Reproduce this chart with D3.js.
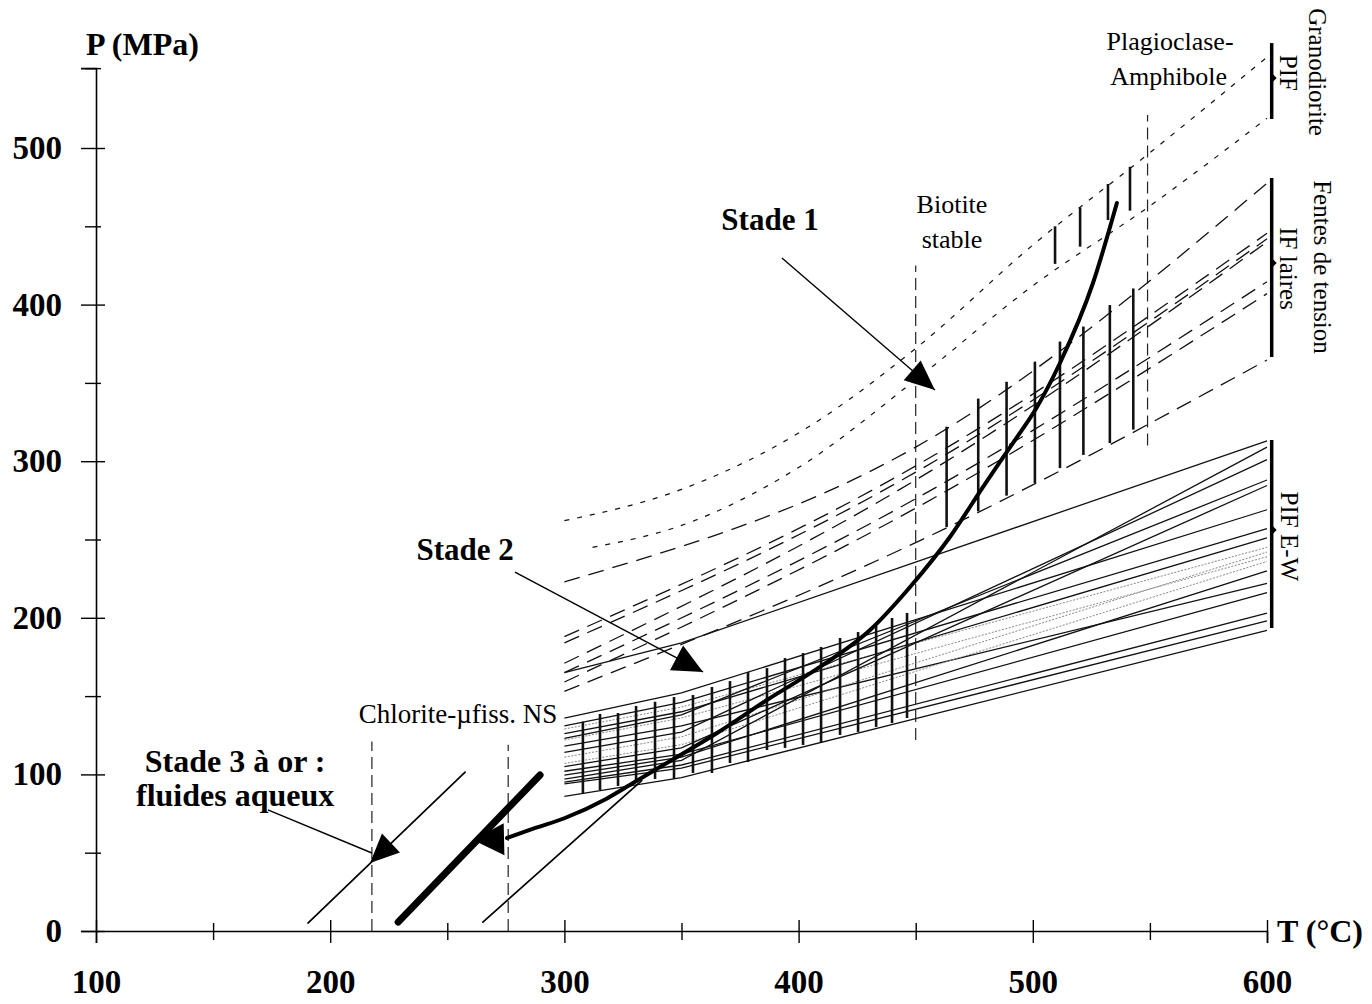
<!DOCTYPE html>
<html>
<head>
<meta charset="utf-8">
<script src="https://cdn.jsdelivr.net/npm/d3@7"></script>
<style>
body { margin: 0; background: #fff; }
svg { display: block; }
</style>
</head>
<body>
<svg id="chart" width="1372" height="1004"></svg>
<script>
// axis ticks
var xTickVals = [100, 150, 200, 250, 300, 350, 400, 450, 500, 550, 600];
var xTickLabels = [100, 200, 300, 400, 500, 600];
var yTickVals = [0, 50, 100, 150, 200, 250, 300, 350, 400, 450, 500];
var yTickLabels = [0, 100, 200, 300, 400, 500];
var yTop = 551;

// PIF E-W isochores (solid), P at T = 300, 350, 600
var ewT = [300, 350, 600];
var ewLines = [
    [165, 184, 313], [136, 152, 269], [131, 146, 257], [129, 143, 245],
    [126, 140, 251], [123, 138, 288], [122, 136, 239], [118, 131, 222],
    [114, 127, 301], [111, 124, 242], [107, 119, 236], [105, 117, 284.5],
    [102, 113, 216], [99.6, 111, 230], [97, 109, 309], [95, 106, 203],
    [94, 104, 198], [86, 98, 192]
];
var ewFaint = [3, 6, 9, 10];

// IF laires isochores (dashed), P at T = 300, 450, 600
var ifT = [300, 450, 600];
var ifLines = [
    [223, 309, 477.5], [188, 297, 445.5], [184, 293, 442], [171, 288, 440],
    [165, 276, 414.6], [159, 270, 407], [153, 248, 364.6]
];

// Granodiorite PIF isochores (dotted)
var granoT1 = [300, 350, 400, 450, 500, 550, 600];
var granoP1 = [262, 282, 318, 372, 438, 497, 558];
var granoT2 = [312, 350, 400, 450, 500, 550, 600];
var granoP2 = [245, 259, 296, 352, 412, 463, 519];

// hatch bars (T, P bottom, P top)
var ewHatchT = [307.9, 315.2, 322.9, 330.6, 338.7, 346.8, 354.9, 363.0, 370.7, 378.4, 386.5, 394.2, 401.9, 409.6, 417.7, 425.4, 433.1, 439.9, 446.3];
var ewHatchTop = [133.7, 138.6, 139.2, 143.7, 146.4, 149.4, 150.7, 155.8, 159.6, 165.4, 167.9, 174.3, 177.5, 181.4, 187.1, 190.9, 194.8, 199.9, 203.1];
var ewHatchBot = [87.5, 90.0, 92.6, 94.5, 97.1, 97.1, 100.9, 100.9, 107.3, 107.9, 115.6, 116.9, 118.8, 120.1, 125.2, 127.1, 130.3, 132.8, 136.0];
var ifHatchT = [463.2, 476.7, 488.8, 500.9, 511.6, 521.6, 532.9, 542.9];
var ifHatchTop = [322, 340, 350.7, 363.6, 376.4, 386, 399.7, 410.3];
var ifHatchBot = [258, 268, 278, 286, 295.6, 304, 311.6, 320.2];
var granoHatchT = [509.5, 520.2, 532.1, 541.5];
var granoHatchTop = [450, 462, 477, 488];
var granoHatchBot = [426, 437, 454, 460];

// Stade 1 path (thick curve), low T to high T
var stade1T = [275.5, 287, 300, 318, 329.3, 340.8, 365.2, 386.5, 409.1, 430.5, 447.6, 464.6, 478.7, 491.5, 501.8, 511.6, 525.7, 535.9];
var stade1P = [59.4, 65.5, 72, 84.5, 94.5, 104.7, 126.4, 147.5, 168.6, 192.2, 219.7, 251.6, 283.5, 311.6, 334.6, 362.7, 413.8, 464.9];

// Stade 3 lines: [T start, P start, T end, P end]
var stade3Lines = [[190.5, 5.1, 257.6, 101.5], [229, 5.7, 289.6, 99.6], [265.2, 5.7, 333, 96]];

// vertical mineral limits: [T, P bottom, P top]
var limits = [[217.8, 0, 121], [276, 0, 119], [450, 122, 425], [549, 310, 521]];

// ranges at right side: [P low, P high, P notch]
var rangeT = 602;
var ranges = [[518.5, 567, 544.7], [366.5, 480.8, 426.6], [193.5, 313.5, 256]];

// pointers: [T from, P from, T tip, P tip]
var pointers = [[392.9, 429.8, 458.2, 345.5], [278.9, 229.2, 359.2, 165.4], [173.4, 77.3, 217.8, 49.8]];

var serif = "'Liberation Serif', 'Times New Roman', serif";
var svg = d3.select("#chart");

var x = d3.scaleLinear().domain([100, 600]).range([96, 1267]);
var y = d3.scaleLinear().domain([0, 500]).range([931, 148]);

var line = d3.line().x(d => x(d[0])).y(d => y(d[1]));
var smooth = d3.line().x(d => x(d[0])).y(d => y(d[1])).curve(d3.curveMonotoneX);

//x axis
var xAxis = svg.append("g")
    .attr("transform", "translate(0," + y(0) + ")")
    .call(d3.axisBottom(x).tickValues(xTickVals).tickSizeOuter(0).tickSize(12).tickPadding(27)
        .tickFormat(d => xTickLabels.includes(d) ? d : ""));
xAxis.select(".domain").attr("stroke-width", 1.6);
xAxis.selectAll(".tick line")
    .attr("y1", d => xTickLabels.includes(d) ? -11 : -8)
    .attr("y2", d => xTickLabels.includes(d) ? 12 : 9)
    .attr("stroke-width", 1.4);
xAxis.selectAll(".tick text")
    .attr("font-family", serif).attr("font-size", 33).attr("font-weight", "bold");

//y axis
var yAxisScale = y.copy().domain([0, yTop]).range([y(0), y(yTop)]);
var yAxis = svg.append("g")
    .attr("transform", "translate(" + x(100) + ",0)")
    .call(d3.axisLeft(yAxisScale).tickValues(yTickVals.concat([yTop])).tickSizeOuter(0).tickSize(15).tickPadding(19)
        .tickFormat(d => yTickLabels.includes(d) ? d : ""));
yAxis.select(".domain").attr("stroke-width", 1.6);
yAxis.selectAll(".tick line")
    .attr("x1", d => yTickLabels.includes(d) ? -15 : -11)
    .attr("x2", d => yTickLabels.includes(d) ? 9 : 5)
    .attr("stroke-width", 1.4);
yAxis.selectAll(".tick text")
    .attr("font-family", serif).attr("font-size", 33).attr("font-weight", "bold");

svg.append("text").attr("x", x(100) - 10).attr("y", y(yTop) - 13)
    .attr("font-family", serif).attr("font-size", 32).attr("font-weight", "bold")
    .text("P (MPa)");
svg.append("text").attr("x", x(600) + 10).attr("y", y(0) + 11)
    .attr("font-family", serif).attr("font-size", 32).attr("font-weight", "bold")
    .text("T (°C)");

//vertical mineral limits
svg.selectAll(".limit").data(limits).enter().append("line")
    .attr("x1", d => x(d[0])).attr("x2", d => x(d[0]))
    .attr("y1", d => y(d[1])).attr("y2", d => y(d[2]))
    .attr("stroke", "#222").attr("stroke-width", 1.2).attr("stroke-dasharray", "12,6");

//granodiorite dotted isochores
[[granoT1, granoP1], [granoT2, granoP2]].forEach(function(g) {
    svg.append("path")
        .datum(g[0].map((t, i) => [t, g[1][i]]))
        .attr("fill", "none").attr("stroke", "#111").attr("stroke-width", 1.2)
        .attr("stroke-dasharray", "5,8")
        .attr("d", smooth);
});

//IF dashed isochores
svg.selectAll(".ifline").data(ifLines).enter().append("path")
    .attr("fill", "none").attr("stroke", "#111").attr("stroke-width", 1.3)
    .attr("stroke-dasharray", "16,9")
    .attr("d", d => smooth(ifT.map((t, i) => [t, d[i]])));

//E-W solid isochores
svg.selectAll(".ewline").data(ewLines).enter().append("path")
    .attr("fill", "none")
    .attr("stroke", (d, i) => ewFaint.includes(i) ? "#888" : "#111")
    .attr("stroke-width", (d, i) => ewFaint.includes(i) ? 1 : 1.3)
    .attr("stroke-dasharray", (d, i) => ewFaint.includes(i) ? "2,1.5" : null)
    .attr("d", d => line(ewT.map((t, i) => [t, d[i]])));

//hatching bars
function hatch(ts, bots, tops, w) {
    svg.append("g").selectAll("line").data(ts).enter().append("line")
        .attr("x1", d => x(d)).attr("x2", d => x(d))
        .attr("y1", (d, i) => y(bots[i])).attr("y2", (d, i) => y(tops[i]))
        .attr("stroke", "#111").attr("stroke-width", w);
}
hatch(ewHatchT, ewHatchBot, ewHatchTop, 2.6);
hatch(ifHatchT, ifHatchBot, ifHatchTop, 2.6);
hatch(granoHatchT, granoHatchBot, granoHatchTop, 2.6);

//stade 3 lines
var stade3Width = [1.7, 7, 1.7];
svg.selectAll(".s3").data(stade3Lines).enter().append("line")
    .attr("x1", d => x(d[0])).attr("y1", d => y(d[1]))
    .attr("x2", d => x(d[2])).attr("y2", d => y(d[3]))
    .attr("stroke", "#000").attr("stroke-width", (d, i) => stade3Width[i])
    .attr("stroke-linecap", "round");

//stade 1 thick path
svg.append("path")
    .datum(stade1T.map((t, i) => [t, stade1P[i]]))
    .attr("fill", "none").attr("stroke", "#000").attr("stroke-width", 4)
    .attr("stroke-linecap", "round")
    .attr("d", smooth);

//arrow heads
function arrowHead(tip, from, len, half) {
    var tx = x(tip[0]), ty = y(tip[1]), fx = x(from[0]), fy = y(from[1]);
    var dx = tx - fx, dy = ty - fy, L = Math.hypot(dx, dy);
    var ux = dx / L, uy = dy / L;
    var bx = tx - ux * len, by = ty - uy * len;
    return "M" + tx + "," + ty + "L" + (bx - uy * half) + "," + (by + ux * half) +
        "L" + (bx + uy * half) + "," + (by - ux * half) + "Z";
}

//pointers
svg.selectAll(".ptr").data(pointers).enter().append("line")
    .attr("x1", d => x(d[0])).attr("y1", d => y(d[1]))
    .attr("x2", d => x(d[2])).attr("y2", d => y(d[3]))
    .attr("stroke", "#000").attr("stroke-width", 1.4);
svg.append("path").attr("d", arrowHead([pointers[0][2], pointers[0][3]], [pointers[0][0], pointers[0][1]], 30, 13));
svg.append("path").attr("d", arrowHead([pointers[1][2], pointers[1][3]], [pointers[1][0], pointers[1][1]], 30, 14));
svg.append("path").attr("d", arrowHead([217.0, 43.4], [stade3Lines[0][2], stade3Lines[0][3]], 29, 13));
svg.append("path").attr("d", arrowHead([261, 58.1], [stade1T[0], stade1P[0] - 0.8], 31, 16));

//range bars at right
var rg = svg.append("g");
rg.selectAll("line").data(ranges).enter().append("line")
    .attr("x1", x(rangeT)).attr("x2", x(rangeT))
    .attr("y1", d => y(d[0])).attr("y2", d => y(d[1]))
    .attr("stroke", "#000").attr("stroke-width", 3.5);
rg.selectAll("path").data(ranges).enter().append("path")
    .attr("d", d => "M" + x(rangeT) + "," + (y(d[2]) - 5) + "l5,5l-5,5Z");

//text labels
function label(t, p, txt, size, bold) {
    svg.append("text").attr("x", x(t)).attr("y", y(p))
        .attr("text-anchor", "middle")
        .attr("font-family", serif).attr("font-size", size)
        .attr("font-weight", bold ? "bold" : "normal")
        .text(txt);
}
label(387.8, 447.6, "Stade 1", 31, true);
label(257.6, 236.9, "Stade 2", 31, true);
label(159.4, 101.5, "Stade 3 à or :", 32, true);
label(159.4, 79.8, "fluides aqueux", 32, true);
label(254.6, 132.8, "Chlorite-µfiss. NS", 27, false);
label(465.5, 458.5, "Biotite", 26, false);
label(465.5, 436, "stable", 26, false);
label(558.6, 562.6, "Plagioclase-", 26, false);
label(558, 540.2, "Amphibole", 26, false);

function vlabel(t, p, txt) {
    svg.append("text")
        .attr("transform", "translate(" + x(t) + "," + y(p) + ") rotate(90)")
        .attr("text-anchor", "middle").attr("dominant-baseline", "central")
        .attr("font-family", serif).attr("font-size", 25)
        .text(txt);
}
vlabel(621.5, 548.5, "Granodiorite");
vlabel(609.2, 548, "PIF");
vlabel(623.5, 424, "Fentes de tension");
vlabel(609.2, 423, "IF laires");
vlabel(609.8, 252, "PIF E-W");
</script>
</body>
</html>
